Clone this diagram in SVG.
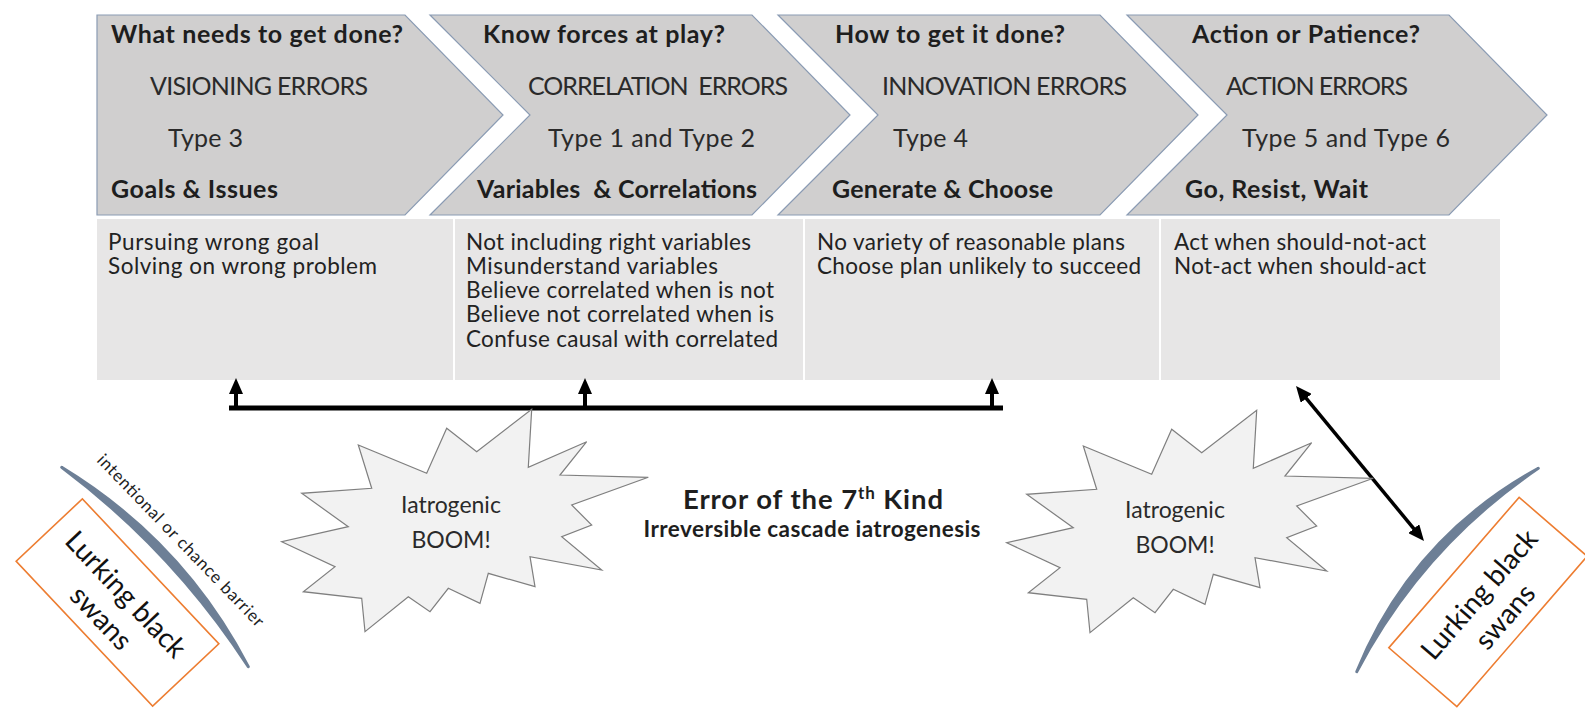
<svg xmlns="http://www.w3.org/2000/svg" width="1585" height="720" viewBox="0 0 1585 720">
<style>
  text { font-family: Lato, "Liberation Sans", sans-serif; fill: #1e1e1e; }
  .hd { font-size: 25px; font-weight: bold; }
  .sub { font-size: 25px; fill: #2a2a2a; }
  .tb { font-size: 22.5px; fill: #222; }
  .chev { fill: #d0cfcf; stroke: #8a9bb3; stroke-width: 1.2; }
  .star { fill: #f2f2f2; stroke: #7f7f7f; stroke-width: 1.2; }
  .boom { font-size: 23px; fill: #2a2a2a; }
  .swanbox { fill: #ffffff; stroke: #ed7d31; stroke-width: 1.6; }
  .swan { font-size: 28px; fill: #111; }
  .barrier { fill: #6d7f96; stroke: #6d7f96; stroke-width: 3; stroke-linejoin: round; }
  .wire { stroke: #000; fill: none; }
</style>
<defs>
  <marker id="ah" markerUnits="userSpaceOnUse" markerWidth="16" markerHeight="14" viewBox="0 0 16 14" refX="8" refY="7" orient="auto-start-reverse">
    <path d="M0,0 L16,7 L0,14 Z" fill="#000"/>
  </marker>
  <polygon id="starShape" points="531.7,409.3 528.3,467.3 586.7,441.7 560,475 648.3,477.3 571.7,505 591.7,525 561.7,536.7 601.7,570 530,556.7 535,586.7 488.3,573.3 480,603.3 448.3,588.3 430,611.7 408.3,596.7 365,631.7 361.7,598.3 303.3,591.7 335,566.7 281.7,541.7 348.3,526.7 301.7,493.3 371.7,488.3 358.3,445 426.7,473.3 446.7,428.3 476.7,451.7"/>
</defs>
<rect width="1585" height="720" fill="#ffffff"/>

<g id="table">
  <rect x="97" y="219" width="1403" height="161" fill="#e7e6e6"/>
  <line x1="454" y1="219" x2="454" y2="380" stroke="#ffffff" stroke-width="2"/>
  <line x1="804" y1="219" x2="804" y2="380" stroke="#ffffff" stroke-width="2"/>
  <line x1="1160" y1="219" x2="1160" y2="380" stroke="#ffffff" stroke-width="2"/>
</g>

<g id="step1">
  <path class="chev" d="M97,15 H405 L503,115 L405,215 H97 Z"/>
  <text class="hd" x="111" y="43" textLength="292" lengthAdjust="spacing">What needs to get done?</text>
  <text class="sub" x="150" y="95" textLength="218" lengthAdjust="spacing">VISIONING ERRORS</text>
  <text class="sub" x="168" y="147" textLength="75" lengthAdjust="spacing">Type 3</text>
  <text class="hd" x="111" y="198" textLength="167" lengthAdjust="spacing">Goals &amp; Issues</text>
  <text class="tb" x="108" y="250" textLength="211" lengthAdjust="spacing">Pursuing wrong goal</text>
  <text class="tb" x="108" y="274" textLength="269" lengthAdjust="spacing">Solving on wrong problem</text>
</g>

<g id="step2">
  <path class="chev" d="M430,15 H752 L850,115 L752,215 H430 L530,115 Z"/>
  <text class="hd" x="483" y="43" textLength="242" lengthAdjust="spacing">Know forces at play?</text>
  <text class="sub" x="528" y="95" textLength="260" lengthAdjust="spacing" xml:space="preserve">CORRELATION  ERRORS</text>
  <text class="sub" x="548" y="147" textLength="207" lengthAdjust="spacing">Type 1 and Type 2</text>
  <text class="hd" x="477" y="198" textLength="280" lengthAdjust="spacing" xml:space="preserve">Variables  &amp; Correlations</text>
  <text class="tb" x="466" y="250" textLength="285" lengthAdjust="spacing">Not including right variables</text>
  <text class="tb" x="466" y="274" textLength="252" lengthAdjust="spacing">Misunderstand variables</text>
  <text class="tb" x="466" y="298" textLength="308" lengthAdjust="spacing">Believe correlated when is not</text>
  <text class="tb" x="466" y="322" textLength="308" lengthAdjust="spacing">Believe not correlated when is</text>
  <text class="tb" x="466" y="347" textLength="312" lengthAdjust="spacing">Confuse causal with correlated</text>
</g>

<g id="step3">
  <path class="chev" d="M778,15 H1100 L1198,115 L1100,215 H778 L878,115 Z"/>
  <text class="hd" x="835" y="43" textLength="230" lengthAdjust="spacing">How to get it done?</text>
  <text class="sub" x="882" y="95" textLength="245" lengthAdjust="spacing">INNOVATION ERRORS</text>
  <text class="sub" x="893" y="147" textLength="75" lengthAdjust="spacing">Type 4</text>
  <text class="hd" x="832" y="198" textLength="221" lengthAdjust="spacing">Generate &amp; Choose</text>
  <text class="tb" x="817" y="250" textLength="308" lengthAdjust="spacing">No variety of reasonable plans</text>
  <text class="tb" x="817" y="274" textLength="324" lengthAdjust="spacing">Choose plan unlikely to succeed</text>
</g>

<g id="step4">
  <path class="chev" d="M1127,15 H1449 L1547,115 L1449,215 H1127 L1227,115 Z"/>
  <text class="hd" x="1192" y="43" textLength="228" lengthAdjust="spacing">Action or Patience?</text>
  <text class="sub" x="1226" y="95" textLength="182" lengthAdjust="spacing">ACTION ERRORS</text>
  <text class="sub" x="1242" y="147" textLength="208" lengthAdjust="spacing">Type 5 and Type 6</text>
  <text class="hd" x="1185" y="198" textLength="183" lengthAdjust="spacing">Go, Resist, Wait</text>
  <text class="tb" x="1174" y="250" textLength="252" lengthAdjust="spacing">Act when should-not-act</text>
  <text class="tb" x="1174" y="274" textLength="252" lengthAdjust="spacing">Not-act when should-act</text>
</g>

<g id="connectors">
  <line class="wire" x1="229" y1="408" x2="1003" y2="408" stroke-width="5"/>
  <line class="wire" x1="236" y1="410" x2="236" y2="386" stroke-width="4" marker-end="url(#ah)"/>
  <line class="wire" x1="585" y1="410" x2="585" y2="386" stroke-width="4" marker-end="url(#ah)"/>
  <line class="wire" x1="992" y1="410" x2="992" y2="386" stroke-width="4" marker-end="url(#ah)"/>
  <line class="wire" x1="1301.1" y1="392.2" x2="1418.9" y2="534.8" stroke-width="3.5" marker-start="url(#ah)" marker-end="url(#ah)"/>
</g>

<g id="boom-left">
  <use href="#starShape" class="star"/>
  <text class="boom" x="451" y="513" text-anchor="middle">Iatrogenic</text>
  <text class="boom" x="451" y="548" text-anchor="middle">BOOM!</text>
</g>

<g id="boom-right">
  <use href="#starShape" class="star" transform="translate(725,1)"/>
  <text class="boom" x="1175" y="518" text-anchor="middle">Iatrogenic</text>
  <text class="boom" x="1175" y="553" text-anchor="middle">BOOM!</text>
</g>

<g id="error7">
  <text x="813" y="509" text-anchor="middle" font-size="27.5" font-weight="bold" textLength="260" lengthAdjust="spacing">Error of the 7<tspan font-size="17" dy="-10">th</tspan><tspan dy="10"> Kind</tspan></text>
  <text x="812" y="537" text-anchor="middle" font-size="22.5" font-weight="bold" textLength="337" lengthAdjust="spacing">Irreversible cascade iatrogenesis</text>
</g>

<g id="barrier-left">
  <path class="barrier" d="M61.7,467.3 Q182.9,540.9 248.3,666.7 Q172.7,550.5 61.7,467.3 Z"/>
  <text x="96" y="461" font-size="17" transform="rotate(46 96 461)" textLength="232" lengthAdjust="spacing">intentional or chance barrier</text>
</g>

<g id="swans-left">
  <g transform="translate(117.5,602.5) rotate(46.7)">
    <rect class="swanbox" x="-99.5" y="-45.5" width="199" height="91"/>
    <text class="swan" x="0" y="-2" text-anchor="middle">Lurking black</text>
    <text class="swan" x="0" y="32" text-anchor="middle">swans</text>
  </g>
</g>

<g id="barrier-right">
  <path class="barrier" d="M1538.3,468.3 Q1411.5,537.9 1356.7,671.7 Q1422,547.2 1538.3,468.3 Z"/>
</g>

<g id="swans-right">
  <g transform="translate(1488,602) rotate(-49.1)">
    <rect class="swanbox" x="-99.5" y="-45" width="199" height="90"/>
    <text class="swan" x="0" y="-2" text-anchor="middle">Lurking black</text>
    <text class="swan" x="0" y="32" text-anchor="middle">swans</text>
  </g>
</g>
</svg>
